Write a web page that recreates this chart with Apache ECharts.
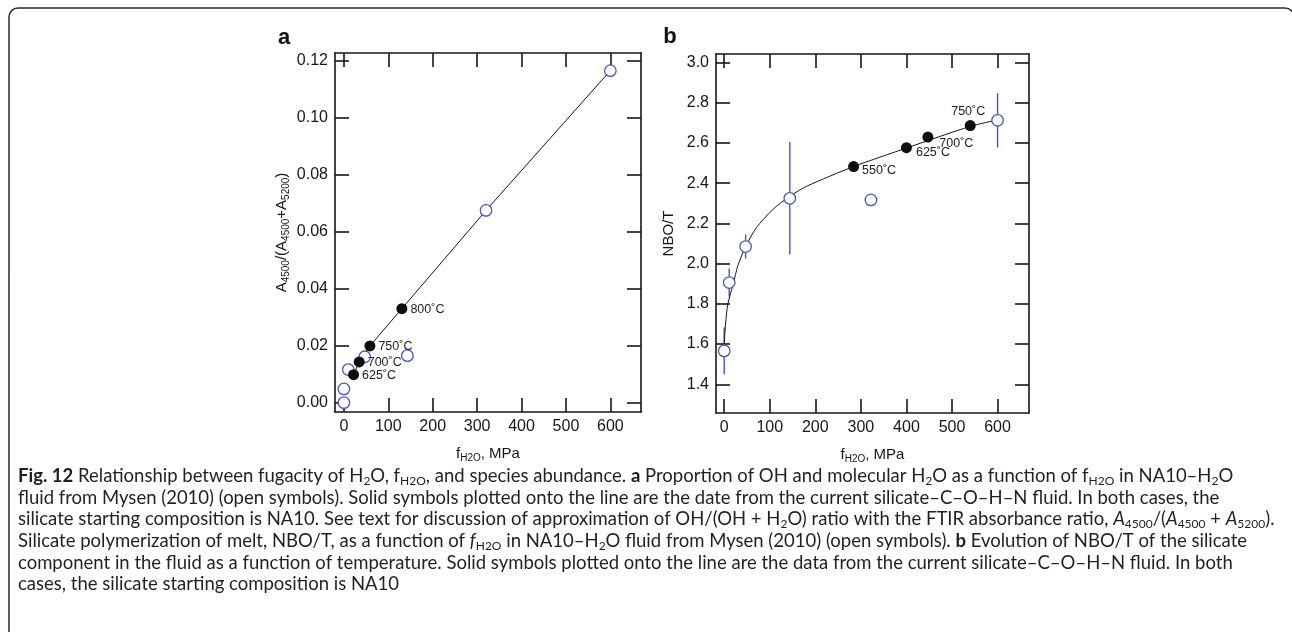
<!DOCTYPE html>
<html>
<head>
<meta charset="utf-8">
<script src="https://cdn.jsdelivr.net/npm/echarts@6/dist/echarts.min.js"></script>
<style>
  html, body { margin: 0; padding: 0; background: #fff; }
  #chart { width: 1292px; height: 632px; }
</style>
</head>
<body>
<div id="chart"></div>
<script>
// ---- Panel a: absorbance ratio A4500/(A4500+A5200) vs. water fugacity (MPa) ----
const openA_f     = [0, 0, 10, 47, 143, 320, 600];
const openA_ratio = [0.0000, 0.0048, 0.0116, 0.0161, 0.0165, 0.0675, 0.1166];
const solidA_f     = [21.8, 34.5, 58.6, 130.6];
const solidA_ratio = [0.0098, 0.0143, 0.0199, 0.0330];
const solidA_temps = ['625˚C', '700˚C', '750˚C', '800˚C'];
const lineA_f     = [21.8, 34.5, 58.6, 130.6, 320, 600];
const lineA_ratio = [0.0098, 0.0143, 0.0199, 0.0330, 0.0675, 0.1166];

// ---- Panel b: NBO/T vs. water fugacity (MPa) ----
const openB_f    = [0, 11, 47, 144, 322, 600];
const openB_nbot = [1.566, 1.906, 2.085, 2.325, 2.317, 2.713];
const openB_err  = [0.116, 0.070, 0.060, 0.280, 0, 0.135];
const solidB_f     = [284, 400, 447, 540];
const solidB_nbot  = [2.483, 2.577, 2.630, 2.687];
const solidB_temps = ['550˚C', '625˚C', '700˚C', '750˚C'];
const curveB_f    = [0, 3, 8, 20, 30, 47, 71, 107, 144, 181, 284, 400, 540, 600];
const curveB_nbot = [1.60, 1.70, 1.80, 1.90, 1.99, 2.085, 2.18, 2.27, 2.335, 2.385, 2.483, 2.575, 2.683, 2.715];

// ---- Tick values ----
const xTicks  = [0, 100, 200, 300, 400, 500, 600];
const yTicksA = [0, 0.02, 0.04, 0.06, 0.08, 0.10, 0.12];
const yTicksB = [1.4, 1.6, 1.8, 2.0, 2.2, 2.4, 2.6, 2.8, 3.0];

const INK = '#161616';
const BLUE = '#4654c0';
const FONT = 'Liberation Sans';
const zip = (a, b) => a.map((v, i) => [v, b[i]]);

const subStyle = { fontFamily: FONT, fontSize: 10, lineHeight: 10, verticalAlign: 'bottom', color: INK };

function xAxis(grid, pos, range, withLabels) {
  return {
    type: 'value', gridIndex: grid, position: pos, min: range[0], max: range[1],
    axisLine: { show: true, onZero: false, lineStyle: { color: INK, width: 1.6 } },
    axisTick: { show: true, inside: true, length: 14, customValues: xTicks, lineStyle: { color: INK, width: 1.6 } },
    axisLabel: { show: withLabels, customValues: xTicks, fontFamily: FONT, fontSize: 16, color: INK, margin: 7 },
    splitLine: { show: false },
    name: withLabels ? 'f{sub|H2O}, MPa' : '',
    nameLocation: 'middle', nameGap: 33,
    nameTextStyle: { fontFamily: FONT, fontSize: 15, color: INK, lineHeight: 18, rich: { sub: subStyle } }
  };
}

function yAxis(grid, pos, range, ticks, digits, withLabels, name, gap) {
  return {
    type: 'value', gridIndex: grid, position: pos, min: range[0], max: range[1],
    axisLine: { show: true, onZero: false, lineStyle: { color: INK, width: 1.6 } },
    axisTick: { show: true, inside: true, length: 14, customValues: ticks, lineStyle: { color: INK, width: 1.6 } },
    axisLabel: { show: withLabels, customValues: ticks, fontFamily: FONT, fontSize: 16, color: INK, margin: 7,
                 formatter: v => v.toFixed(digits) },
    splitLine: { show: false },
    name: withLabels ? name : '',
    nameLocation: 'middle', nameGap: gap,
    nameTextStyle: { fontFamily: FONT, fontSize: 15, color: INK, lineHeight: 18, rich: { sub: subStyle } }
  };
}

const openSymbol = { color: '#fff', borderColor: BLUE, borderWidth: 1.3, opacity: 1 };
const solidSymbol = { color: '#0d0d0d', opacity: 1 };
const tempLabel = { show: true, fontFamily: FONT, fontSize: 12.5, color: '#1e1e1e' };

// label placement for the temperature tags of panel b
const placeB = [
  { position: 'right', distance: 3, offset: [0, 4] },
  { position: 'right', distance: 4, offset: [0, 5] },
  { position: 'right', distance: 6, offset: [0, 7] },
  { position: 'top', distance: 2, offset: [-2, 0] }
];

const caption =
  '{b|Fig. 12} Relationship between fugacity of H{s|2}O, f{s|H2O}, and species abundance. {b|a} Proportion of OH and molecular H{s|2}O as a function of f{s|H2O} in NA10–H{s|2}O\n' +
  'fluid from Mysen (2010) (open symbols). Solid symbols plotted onto the line are the date from the current silicate–C–O–H–N fluid. In both cases, the\n' +
  'silicate starting composition is NA10. See text for discussion of approximation of OH/(OH + H{s|2}O) ratio with the FTIR absorbance ratio, {i|A}{s|4500}/({i|A}{s|4500} + {i|A}{s|5200}).\n' +
  'Silicate polymerization of melt, NBO/T, as a function of {i|f}{s|H2O} in NA10–H{s|2}O fluid from Mysen (2010) (open symbols). {b|b} Evolution of NBO/T of the silicate\n' +
  'component in the fluid as a function of temperature. Solid symbols plotted onto the line are the data from the current silicate–C–O–H–N fluid. In both\n' +
  'cases, the silicate starting composition is NA10';

const CAP_FONT = 'Lato';
const CAP_SIZE = 18.5;
const CAP_SUB = 12;
const CAP_LH = 21.7;
const CAP_COLOR = '#231f20';

const chart = echarts.init(document.getElementById('chart'), null, { renderer: 'canvas' });
chart.setOption({
  animation: false,
  backgroundColor: '#fff',
  grid: [
    { left: 335, top: 53, width: 306, height: 359 },
    { left: 716, top: 54, width: 313, height: 359 }
  ],
  xAxis: [
    xAxis(0, 'bottom', [-20, 669], true),
    xAxis(0, 'top', [-20, 669], false),
    xAxis(1, 'bottom', [-18, 669], true),
    xAxis(1, 'top', [-18, 669], false)
  ],
  yAxis: [
    yAxis(0, 'left', [-0.0033, 0.1228], yTicksA, 2, true,
          'A{sub|4500}/(A{sub|4500}+A{sub|5200})', 44),
    yAxis(0, 'right', [-0.0033, 0.1228], yTicksA, 2, false, '', 0),
    yAxis(1, 'left', [1.257, 3.043], yTicksB, 1, true, 'NBO/T', 38),
    yAxis(1, 'right', [1.257, 3.043], yTicksB, 1, false, '', 0)
  ],
  series: [
    // panel a
    {
      type: 'line', xAxisIndex: 0, yAxisIndex: 0, data: zip(lineA_f, lineA_ratio),
      showSymbol: false, lineStyle: { color: INK, width: 1 }, z: 2, silent: true
    },
    {
      type: 'scatter', xAxisIndex: 0, yAxisIndex: 0, data: zip(openA_f, openA_ratio),
      symbol: 'circle', symbolSize: 11.5, itemStyle: openSymbol, z: 3
    },
    {
      type: 'scatter', xAxisIndex: 0, yAxisIndex: 0, data: zip(solidA_f, solidA_ratio),
      symbol: 'circle', symbolSize: 11, itemStyle: solidSymbol, z: 4,
      label: Object.assign({}, tempLabel, {
        position: 'right', distance: 3, offset: [0, 1],
        formatter: p => solidA_temps[p.dataIndex]
      })
    },
    // panel b
    {
      type: 'line', xAxisIndex: 2, yAxisIndex: 2, data: zip(curveB_f, curveB_nbot),
      showSymbol: false, smooth: 0.25, lineStyle: { color: INK, width: 1 }, z: 2, silent: true
    },
    {
      type: 'custom', xAxisIndex: 2, yAxisIndex: 2, z: 2,
      data: openB_f.map((f, i) => [f, openB_nbot[i] - openB_err[i], openB_nbot[i] + openB_err[i]])
                   .filter(d => d[2] > d[1]),
      encode: { x: 0, y: [1, 2] },
      renderItem: (params, api) => {
        const lo = api.coord([api.value(0), api.value(1)]);
        const hi = api.coord([api.value(0), api.value(2)]);
        return {
          type: 'line',
          shape: { x1: lo[0], y1: lo[1], x2: hi[0], y2: hi[1] },
          style: { stroke: BLUE, lineWidth: 1.4 }
        };
      }
    },
    {
      type: 'scatter', xAxisIndex: 2, yAxisIndex: 2, data: zip(openB_f, openB_nbot),
      symbol: 'circle', symbolSize: 11.5, itemStyle: openSymbol, z: 3
    },
    {
      type: 'scatter', xAxisIndex: 2, yAxisIndex: 2,
      data: zip(solidB_f, solidB_nbot).map((v, i) => ({
        value: v,
        label: Object.assign({}, tempLabel, placeB[i], { formatter: solidB_temps[i] })
      })),
      symbol: 'circle', symbolSize: 11, itemStyle: solidSymbol, z: 4
    }
  ],
  graphic: [
    {
      type: 'rect', silent: true,
      shape: { x: 9, y: 8, width: 1285, height: 700, r: 9 },
      style: { fill: 'none', stroke: '#2b2b2b', lineWidth: 1.5 }
    },
    {
      type: 'text', x: 284, y: 38, silent: true,
      style: { text: 'a', fontFamily: FONT, fontWeight: 'bold', fontSize: 22, fill: '#111',
               align: 'center', verticalAlign: 'middle' }
    },
    {
      type: 'text', x: 670, y: 37, silent: true,
      style: { text: 'b', fontFamily: FONT, fontWeight: 'bold', fontSize: 22, fill: '#111',
               align: 'center', verticalAlign: 'middle' }
    },
    {
      type: 'text', x: 18, y: 465, silent: true,
      style: {
        text: caption,
        fontFamily: CAP_FONT, fontSize: CAP_SIZE, lineHeight: CAP_LH, fill: CAP_COLOR,
        align: 'left', verticalAlign: 'top',
        rich: {
          b: { fontFamily: CAP_FONT, fontSize: CAP_SIZE, fontWeight: 'bold', lineHeight: CAP_LH, fill: CAP_COLOR },
          i: { fontFamily: CAP_FONT, fontSize: CAP_SIZE, fontStyle: 'italic', lineHeight: CAP_LH, fill: CAP_COLOR },
          s: { fontFamily: CAP_FONT, fontSize: CAP_SUB, lineHeight: 13, verticalAlign: 'bottom', fill: CAP_COLOR }
        }
      }
    }
  ]
});
</script>
</body>
</html>
